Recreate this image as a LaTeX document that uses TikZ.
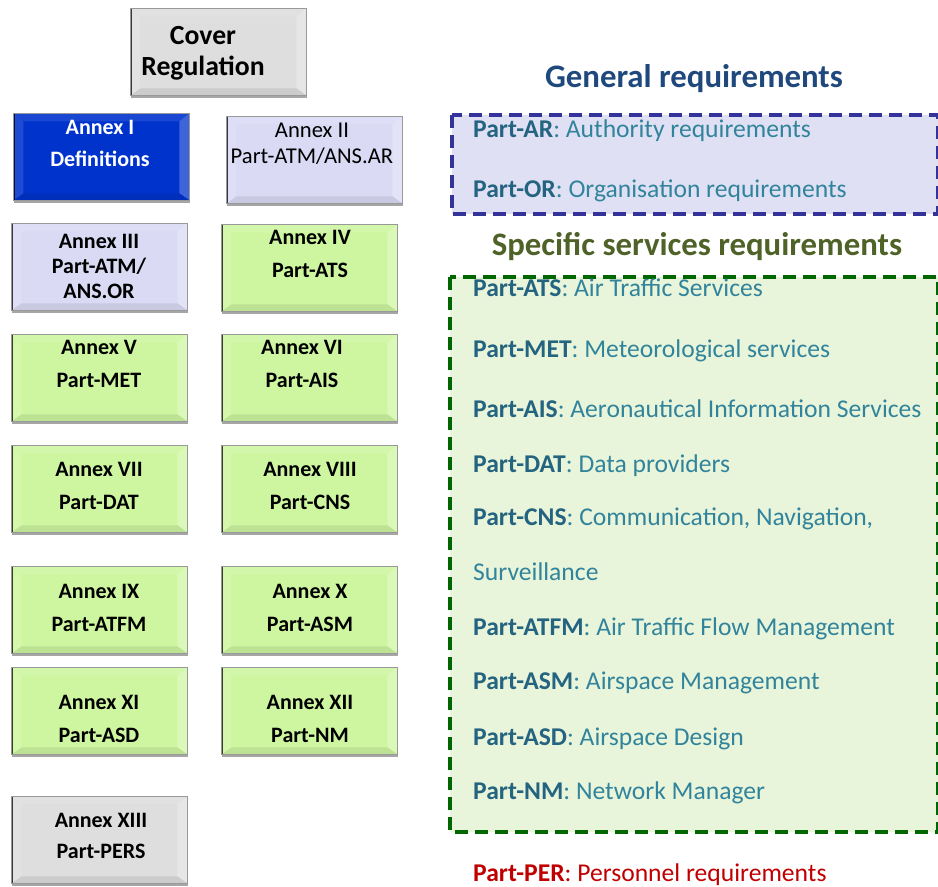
\documentclass[tikz,border=0pt]{standalone}
\usepackage{fontspec}
\setmainfont{Carlito}
\usetikzlibrary{calc,shadows}

\definecolor{annexgray}{RGB}{222,222,222}
\definecolor{annexblue}{RGB}{0,51,204}
\definecolor{annexlilac}{RGB}{218,218,245}
\definecolor{annexgreen}{RGB}{206,246,160}
\definecolor{genblue}{RGB}{51,51,153}
\definecolor{genfill}{RGB}{224,224,244}
\definecolor{specgreen}{RGB}{0,102,0}
\definecolor{specfill}{RGB}{233,245,218}
\definecolor{headblue}{RGB}{31,73,125}
\definecolor{headolive}{RGB}{79,98,40}
\definecolor{partteal}{RGB}{49,132,155}
\definecolor{partdark}{RGB}{36,100,128}
\definecolor{perred}{RGB}{192,0,0}

\tikzset{
	bevel/.style={fill=#1, path picture={
		\coordinate (bnw) at (path picture bounding box.north west);
		\coordinate (bne) at (path picture bounding box.north east);
		\coordinate (bsw) at (path picture bounding box.south west);
		\coordinate (bse) at (path picture bounding box.south east);
		\coordinate (inw) at ([xshift=10pt,yshift=-8pt]bnw);
		\coordinate (ine) at ([xshift=-10pt,yshift=-8pt]bne);
		\coordinate (isw) at ([xshift=10pt,yshift=7pt]bsw);
		\coordinate (ise) at ([xshift=-10pt,yshift=7pt]bse);
		\fill[#1!90!white] (bnw) -- (bne) -- (ine) -- (inw) -- cycle;
		\fill[#1!76!white] (bne) -- (bse) -- (ise) -- (ine) -- cycle;
		\fill[#1!92!black] (bse) -- (bsw) -- (isw) -- (ise) -- cycle;
		\fill[#1!88!white] (bsw) -- (bnw) -- (inw) -- (isw) -- cycle;
		\draw[line width=3pt, #1!25!black] (bsw) -- (bnw);
	}},
	annex/.style={bevel=#1, draw=black!40, line width=0.6pt, minimum width=176pt, minimum height=87pt,
		inner sep=0pt, anchor=north west,
		drop shadow={shadow xshift=1pt, shadow yshift=-3pt, opacity=0.35, fill=black}},
	annextext/.style={align=center, inner sep=0pt, font=\bfseries\fontsize{22}{33}\selectfont},
	reqline/.style={anchor=base west, inner sep=0pt, text=partteal, font=\fontsize{25.6}{30}\selectfont},
	reqhead/.style={anchor=base, inner sep=0pt, font=\bfseries\fontsize{32.8}{38}\selectfont},
	reqbox/.style={line width=4.5pt, dash pattern=on 13pt off 7pt},
}
\newcommand{\pt}[1]{\textcolor{partdark}{\bfseries #1}}

\begin{document}
\begin{tikzpicture}[x=1pt,y=-1pt]
		%%%%% START %%%%%
		\useasboundingbox (0,0) rectangle (938,887);
		
		% left column: the annexes
		\node[annex=annexgray] (cover) at (130,8) {};
		\node[annextext, font=\bfseries\fontsize{27.7}{31}\selectfont] (cover-t) at (203,53) {Cover\\Regulation};
		
		\node[annex=annexblue] (ann1) at (13,113) {};
		\node[annextext, text=white, font=\bfseries\fontsize{22}{32}\selectfont] (ann1-t) at (100,143) {Annex I\\Definitions};
		\node[annex=annexlilac] (ann2) at (226,116) {};
		\node[annextext, font=\fontsize{22.6}{26}\selectfont] (ann2-t) at (312,144) {Annex II\\Part-ATM/ANS.AR};
		
		\node[annex=annexlilac] (ann3) at (11,223) {};
		\node[annextext, font=\bfseries\fontsize{22}{25}\selectfont] (ann3-t) at (99,266) {Annex III\\Part-ATM/\\ANS.OR};
		\node[annex=annexgreen] (ann4) at (221,224) {};
		\node[annextext] (ann4-t) at (310,254) {Annex IV\\Part-ATS};
		
		\node[annex=annexgreen] (ann5) at (11,334) {};
		\node[annextext] (ann5-t) at (99,364) {Annex V\\Part-MET};
		\node[annex=annexgreen] (ann6) at (221,334) {};
		\node[annextext] (ann6-t) at (302,364) {Annex VI\\Part-AIS};
		
		\node[annex=annexgreen] (ann7) at (11,445) {};
		\node[annextext] (ann7-t) at (99,486) {Annex VII\\Part-DAT};
		\node[annex=annexgreen] (ann8) at (221,445) {};
		\node[annextext] (ann8-t) at (310,486) {Annex VIII\\Part-CNS};
		
		\node[annex=annexgreen] (ann9) at (11,566) {};
		\node[annextext] (ann9-t) at (99,608) {Annex IX\\Part-ATFM};
		\node[annex=annexgreen] (ann10) at (221,566) {};
		\node[annextext] (ann10-t) at (310,608) {Annex X\\Part-ASM};
		
		\node[annex=annexgreen] (ann11) at (11,667) {};
		\node[annextext] (ann11-t) at (99,719) {Annex XI\\Part-ASD};
		\node[annex=annexgreen] (ann12) at (221,667) {};
		\node[annextext] (ann12-t) at (310,719) {Annex XII\\Part-NM};
		
		\node[annex=annexgray] (ann13) at (11,796) {};
		\node[annextext, font=\bfseries\fontsize{22}{31}\selectfont] (ann13-t) at (101,836) {Annex XIII\\Part-PERS};
		
		% right column: general requirements
		\node[reqhead, text=headblue] (genhead) at (694,87) {General requirements};
		\draw[reqbox, draw=genblue, fill=genfill] (452,115) rectangle (938,214);
		\node[reqline] (ar) at (473,137) {\pt{Part-AR}: Authority requirements};
		\node[reqline] (or) at (473,197) {\pt{Part-OR}: Organisation requirements};
		
		% right column: specific services requirements
		\node[reqhead, text=headolive] (spechead) at (697,255) {Specific services requirements};
		\draw[reqbox, draw=specgreen, fill=specfill] (450,277) rectangle (938,832);
		\node[reqline] (ats) at (473,296) {\pt{Part-ATS}: Air Traffic Services};
		\node[reqline] (met) at (473,357) {\pt{Part-MET}: Meteorological services};
		\node[reqline] (ais) at (473,417) {\pt{Part-AIS}: Aeronautical Information Services};
		\node[reqline] (dat) at (473,472) {\pt{Part-DAT}: Data providers};
		\node[reqline] (cns) at (473,525) {\pt{Part-CNS}: Communication, Navigation,};
		\node[reqline] (surv) at (473,580) {Surveillance};
		\node[reqline] (atfm) at (473,635) {\pt{Part-ATFM}: Air Traffic Flow Management};
		\node[reqline] (asm) at (473,689) {\pt{Part-ASM}: Airspace Management};
		\node[reqline] (asd) at (473,745) {\pt{Part-ASD}: Airspace Design};
		\node[reqline] (nm) at (473,799) {\pt{Part-NM}: Network Manager};
		
		\node[reqline, text=perred] (per) at (473,881) {\textbf{Part-PER}: Personnel requirements};
		
		%%%%% END %%%%%
	\end{tikzpicture}
\end{document}
